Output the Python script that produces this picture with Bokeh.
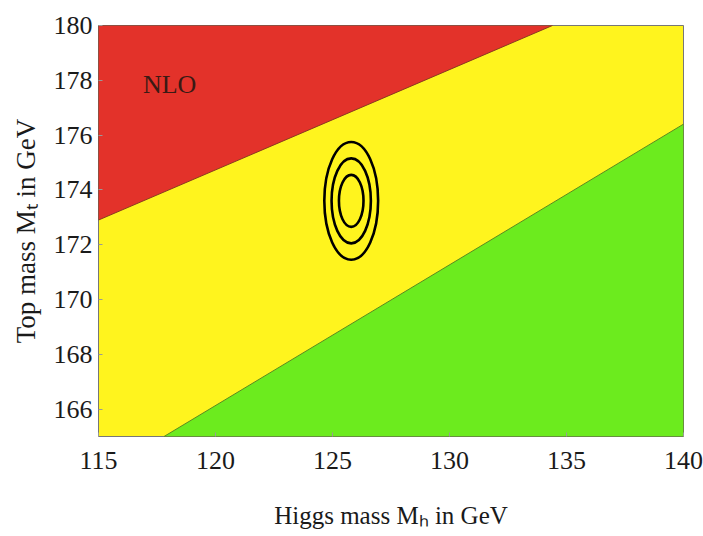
from bokeh.plotting import figure
from bokeh.models import Range1d, FixedTicker, Label
from bokeh.embed import file_html
from bokeh.resources import INLINE

# ---------------- data ----------------
mh_limits = [115, 140]          # Higgs mass axis range (GeV)
mt_limits = [165, 180]          # top mass axis range (GeV)
x_ticks = [115, 120, 125, 130, 135, 140]
y_ticks = [166, 168, 170, 172, 174, 176, 178, 180]

# boundary between red (NLO instability) and yellow region
red_edge_mh = [115.0, 134.4]
red_edge_mt = [172.9, 180.0]
# boundary between yellow and green region
green_edge_mh = [117.8, 140.0]
green_edge_mt = [165.0, 176.4]

# measured point and its three confidence contours
centre_mh = 125.8
centre_mt = 173.6
contour_width_mh = [1.05, 1.68, 2.30]
contour_height_mt = [1.90, 3.10, 4.30]

region_label = "NLO"
label_mh = 116.9
label_mt = 177.85

# ---------------- styling ----------------
FONT = "Liberation Serif"
RED = "#E3322A"
YELLOW = "#FFF41E"
GREEN = "#6CEB1E"

p = figure(width=703, height=536, output_backend="svg", toolbar_location=None,
           x_range=Range1d(*mh_limits), y_range=Range1d(*mt_limits),
           min_border_left=98, min_border_right=20, min_border_top=25, min_border_bottom=100)

p.background_fill_color = YELLOW
p.border_fill_color = "white"
p.outline_line_color = "#777777"
p.outline_line_width = 1
p.grid.visible = False

# red region: above the red edge, up to the top-left corner
p.patch(x=[red_edge_mh[0], red_edge_mh[1], mh_limits[0]],
        y=[red_edge_mt[0], red_edge_mt[1], mt_limits[1]],
        fill_color=RED, line_color="#8a3a20", line_width=1)
# green region: below the green edge, down to the bottom-right corner
p.patch(x=[green_edge_mh[0], mh_limits[1], green_edge_mh[1]],
        y=[green_edge_mt[0], mt_limits[0], green_edge_mt[1]],
        fill_color=GREEN, line_color="#5a8a20", line_width=1)

# confidence ellipses
p.ellipse(x=[centre_mh] * len(contour_width_mh), y=[centre_mt] * len(contour_height_mt),
          width=contour_width_mh, height=contour_height_mt,
          fill_color=None, line_color="black", line_width=2.6)

p.add_layout(Label(x=label_mh, y=label_mt, text=region_label, text_font=FONT,
                   text_font_size="26px", text_color="#3a1a14",
                   text_align="left", text_baseline="middle"))

for ax in (p.xaxis[0], p.yaxis[0]):
    ax.axis_line_color = None
    ax.major_tick_in = 4
    ax.major_tick_out = 0
    ax.minor_tick_in = 2
    ax.minor_tick_out = 0
    ax.major_tick_line_color = "#999999"
    ax.minor_tick_line_color = "#bbbbbb"
    ax.major_label_text_font = FONT
    ax.major_label_text_font_size = "26px"
    ax.major_label_text_color = "#1a1a1a"
    ax.axis_label_text_font = FONT
    ax.axis_label_text_font_style = "normal"
    ax.axis_label_text_color = "#1a1a1a"

p.xaxis.axis_label_text_font_size = "25px"
p.yaxis.axis_label_text_font_size = "27px"
p.xaxis.ticker = FixedTicker(ticks=x_ticks)
p.yaxis.ticker = FixedTicker(ticks=y_ticks)
p.xaxis.major_label_standoff = 15
p.yaxis.major_label_standoff = 6
p.xaxis.axis_label = "Higgs mass M\u2095 in GeV"
p.yaxis.axis_label = "Top mass M\u209c in GeV"
p.xaxis.axis_label_standoff = 30
p.yaxis.axis_label_standoff = 10

open("out.html", "w").write(file_html(p, INLINE))
